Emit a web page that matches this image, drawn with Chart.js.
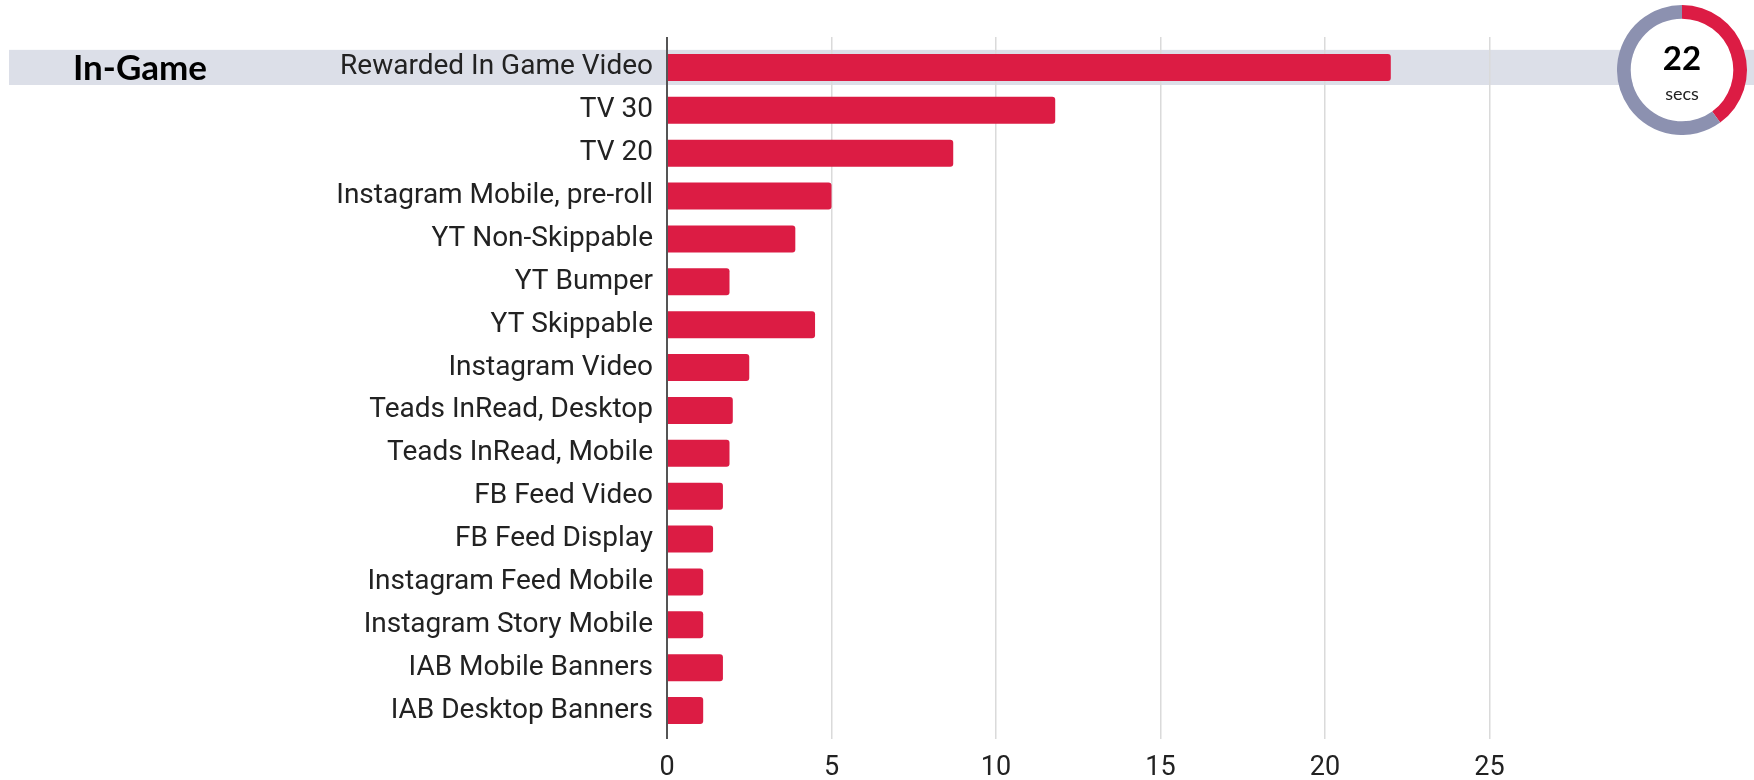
<!DOCTYPE html>
<html>
<head>
<meta charset="utf-8">
<script src="https://cdn.jsdelivr.net/npm/chart.js"></script>
<style>
  body { margin: 0; background: #fff; }
  #wrap { position: relative; width: 1754px; height: 780px; }
  #barChart { position: absolute; left: 0; top: 0; }
  #donut { position: absolute; left: 1617px; top: 5px; }
</style>
</head>
<body>
<div id="wrap">
  <canvas id="barChart" width="1754" height="780"></canvas>
  <canvas id="donut" width="130" height="130"></canvas>
</div>
<script>
const categories = [
    "Rewarded In Game Video",
    "TV 30",
    "TV 20",
    "Instagram Mobile, pre-roll",
    "YT Non-Skippable",
    "YT Bumper",
    "YT Skippable",
    "Instagram Video",
    "Teads InRead, Desktop",
    "Teads InRead, Mobile",
    "FB Feed Video",
    "FB Feed Display",
    "Instagram Feed Mobile",
    "Instagram Story Mobile",
    "IAB Mobile Banners",
    "IAB Desktop Banners"
];

const seconds = [22, 11.8, 8.7, 5, 3.9, 1.9, 4.5, 2.5, 2, 1.9, 1.7, 1.4, 1.1, 1.1, 1.7, 1.1];

const xTicks = [0, 5, 10, 15, 20, 25];

const highlightLabel = "In-Game";
const donutValues = [22, 33];   // shown secs, rest of ring
const donutText = "22";
const donutUnit = "secs";

const RED = "#DC1C44";

/* highlight band + side label */
const bandPlugin = {
    id: "band",
    beforeDraw(chart) {
        const c = chart.ctx;
        const y = chart.scales.y;
        const cy = y.getPixelForValue(0);
        const step = y.getPixelForValue(1) - cy;
        c.save();
        c.fillStyle = "#DCDFE8";
        c.fillRect(9, cy - step * 0.41, chart.width - 9, step * 0.82);
        c.fillStyle = "#000";
        c.font = "bold 35px Lato";
        c.textBaseline = "middle";
        c.textAlign = "left";
        c.fillText(highlightLabel, 73, cy + 1);
        c.restore();
    }
};

const keepTicks = scale => {
    scale.ticks = xTicks.map(v => ({ value: v }));
};

const gridColor = ctx =>
    ctx.tick && ctx.tick.value === 0 ? "#555" : "#DADADA";

const gridWidth = ctx =>
    ctx.tick && ctx.tick.value === 0 ? 2 : 1.5;

new Chart(document.getElementById("barChart"), {
    type: "bar",
    data: {
        labels: categories,
        datasets: [{
            data: seconds,
            backgroundColor: RED,
            borderRadius: 3,
            borderSkipped: "start",
            barPercentage: 0.63,
            categoryPercentage: 1
        }]
    },
    options: {
        indexAxis: "y",
        responsive: false,
        animation: false,
        layout: { padding: { left: 0, right: 100, top: 0, bottom: 0 } },
        plugins: {
            legend: { display: false },
            tooltip: { enabled: false }
        },
        scales: {
            x: {
                position: "bottom",
                min: 0,
                max: 30,
                afterBuildTicks: keepTicks,
                afterFit: s => { s.height = 48; },
                border: { display: false },
                grid: {
                    color: gridColor,
                    lineWidth: gridWidth,
                    tickLength: 7
                },
                ticks: {
                    padding: 13,
                    color: "#222",
                    font: { family: "Roboto", size: 27 }
                }
            },
            xTop: {
                type: "linear",
                position: "top",
                min: 0,
                max: 30,
                afterBuildTicks: keepTicks,
                afterFit: s => { s.height = 46; },
                border: { display: false },
                grid: {
                    drawOnChartArea: false,
                    color: gridColor,
                    lineWidth: gridWidth,
                    tickLength: 9
                },
                ticks: { display: false }
            },
            y: {
                afterFit: s => { s.width = 667; },
                border: { display: false },
                grid: { display: false },
                ticks: {
                    padding: 6,
                    color: "#222",
                    font: { family: "Roboto", size: 28 }
                }
            }
        }
    },
    plugins: [bandPlugin]
});

/* donut badge */
const donutPlugin = {
    id: "donutText",
    beforeDatasetsDraw(chart) {
        const arc = chart.getDatasetMeta(0).data[0];
        const c = chart.ctx;
        c.save();
        c.fillStyle = "#fff";
        c.beginPath();
        c.arc(arc.x, arc.y, arc.innerRadius, 0, Math.PI * 2);
        c.fill();
        c.restore();
    },
    afterDraw(chart) {
        const arc = chart.getDatasetMeta(0).data[0];
        const c = chart.ctx;
        c.save();
        c.textAlign = "center";
        c.textBaseline = "alphabetic";
        c.fillStyle = "#000";
        c.font = "bold 33px Lato";
        c.fillText(donutText, arc.x, arc.y);
        c.fillStyle = "#222";
        c.font = "18px Lato";
        c.fillText(donutUnit, arc.x, arc.y + 30);
        c.restore();
    }
};

new Chart(document.getElementById("donut"), {
    type: "doughnut",
    data: {
        datasets: [{
            data: donutValues,
            backgroundColor: [RED, "#8C91B0"],
            borderWidth: 0
        }]
    },
    options: {
        responsive: false,
        animation: false,
        cutout: "79%",
        layout: { padding: 0 },
        plugins: {
            legend: { display: false },
            tooltip: { enabled: false }
        }
    },
    plugins: [donutPlugin]
});
</script>
</body>
</html>
